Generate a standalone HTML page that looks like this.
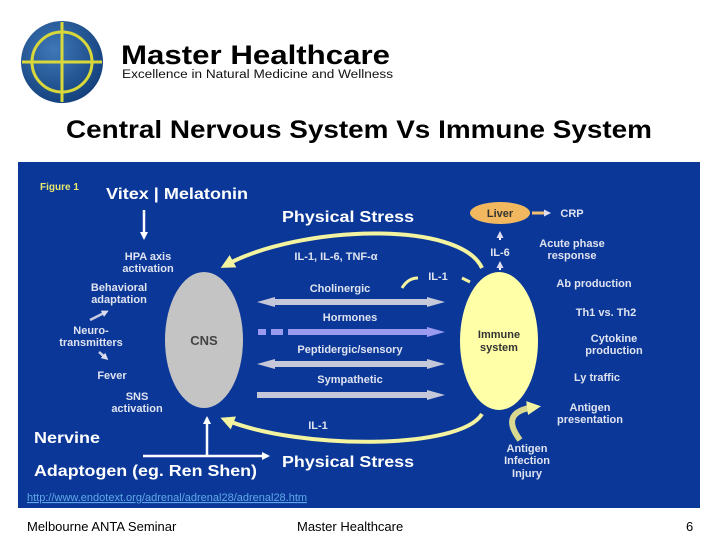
<!DOCTYPE html>
<html><head><meta charset="utf-8"><style>
html,body{margin:0;padding:0;background:#fff;}
body{width:720px;height:540px;overflow:hidden;position:relative;font-family:"Liberation Sans",sans-serif;}
</style></head><body>
<svg width="720" height="540" viewBox="0 0 720 540" xmlns="http://www.w3.org/2000/svg" font-family="Liberation Sans, sans-serif">
<defs>
<radialGradient id="lg" cx="0.4" cy="0.35" r="0.7"><stop offset="0" stop-color="#3f78b8"/><stop offset="1" stop-color="#123f7a"/></radialGradient>
<marker id="wa" markerWidth="8" markerHeight="8" refX="6" refY="4" orient="auto" markerUnits="userSpaceOnUse"><path d="M0,0 L8,4 L0,8 z" fill="#fff"/></marker>
<marker id="ya" markerWidth="14" markerHeight="14" refX="8" refY="7" orient="auto" markerUnits="userSpaceOnUse"><path d="M0,0 L14,7 L0,14 z" fill="#f4f4a0"/></marker>
<marker id="sa" markerWidth="7" markerHeight="7" refX="4" refY="3.5" orient="auto" markerUnits="userSpaceOnUse"><path d="M0,0 L7,3.5 L0,7 z" fill="#dde"/></marker>
</defs>
<!-- logo -->
<circle cx="62" cy="62" r="41" fill="url(#lg)"/>
<circle cx="62" cy="62" r="30" fill="none" stroke="#d8d83a" stroke-width="3"/>
<line x1="62" y1="22" x2="62" y2="102" stroke="#d8d83a" stroke-width="3"/>
<line x1="22" y1="62" x2="102" y2="62" stroke="#d8d83a" stroke-width="3"/>
<text x="121" y="64" font-size="27" font-weight="bold" fill="#000" textLength="269" lengthAdjust="spacingAndGlyphs">Master Healthcare</text>
<text x="122" y="78" font-size="11.5" fill="#111" textLength="271" lengthAdjust="spacingAndGlyphs">Excellence in Natural Medicine and Wellness</text>
<text x="66" y="138" font-size="25" font-weight="bold" fill="#000" textLength="586" lengthAdjust="spacingAndGlyphs">Central Nervous System Vs Immune System</text>
<!-- panel -->
<rect x="18" y="162" width="682" height="346" fill="#0b3898"/>
<text x="40" y="190" font-size="10" font-weight="bold" fill="#e8e870">Figure 1</text>
<text x="106" y="199" font-size="16" font-weight="bold" fill="#fff" textLength="142" lengthAdjust="spacingAndGlyphs">Vitex | Melatonin</text>
<line x1="144" y1="210" x2="144" y2="238" stroke="#fff" stroke-width="2.5" marker-end="url(#wa)"/>
<line x1="90" y1="320" x2="106" y2="312" stroke="#c8cce0" stroke-width="2.5" marker-end="url(#sa)"/>
<line x1="99" y1="352" x2="106" y2="358" stroke="#c8cce0" stroke-width="2.5" marker-end="url(#sa)"/>
<ellipse cx="204" cy="340" rx="39" ry="68" fill="#c4c4c4"/>
<ellipse cx="499" cy="341" rx="39" ry="69" fill="#ffffa8"/>
<ellipse cx="500" cy="213" rx="30" ry="11" fill="#f2b860"/>
<g fill="#dfe3f0" font-size="11" font-weight="bold" text-anchor="middle">
<text x="148" y="260">HPA axis</text><text x="148" y="272">activation</text>
<text x="119" y="291">Behavioral</text><text x="119" y="303">adaptation</text>
<text x="91" y="334">Neuro-</text><text x="91" y="346">transmitters</text>
<text x="112" y="379">Fever</text>
<text x="137" y="400">SNS</text><text x="137" y="412">activation</text>
<text x="204" y="345" font-size="13" fill="#444">CNS</text>
<text x="336" y="260">IL-1, IL-6, TNF-α</text>
<text x="340" y="292">Cholinergic</text>
<text x="350" y="321">Hormones</text>
<text x="350" y="353">Peptidergic/sensory</text>
<text x="350" y="383">Sympathetic</text>
<text x="438" y="280">IL-1</text>
<text x="318" y="429">IL-1</text>
<text x="500" y="256">IL-6</text>
<text x="500" y="217" fill="#333">Liver</text>
<text x="572" y="247">Acute phase</text><text x="572" y="259">response</text>
<text x="594" y="287">Ab production</text>
<text x="606" y="316">Th1 vs. Th2</text>
<text x="614" y="342">Cytokine</text><text x="614" y="354">production</text>
<text x="597" y="381">Ly traffic</text>
<text x="590" y="411">Antigen</text><text x="590" y="423">presentation</text>
<text x="527" y="452">Antigen</text><text x="527" y="464">Infection</text><text x="527" y="477">Injury</text>
<text x="572" y="217">CRP</text>
<text x="499" y="338" fill="#333">Immune</text>
<text x="499" y="351" fill="#333">system</text>
</g>
<line x1="532" y1="213" x2="548" y2="213" stroke="#f2c070" stroke-width="3" marker-end="url(#sa)"/>
<line x1="500" y1="240" x2="500" y2="234" stroke="#fff" stroke-width="2" marker-end="url(#sa)"/>
<line x1="500" y1="270" x2="500" y2="264" stroke="#fff" stroke-width="2" marker-end="url(#sa)"/>
<!-- curves -->
<path d="M482,268 C460,220 300,225 226,265" fill="none" stroke="#f4f4a0" stroke-width="4" marker-end="url(#ya)"/>
<path d="M482,414 C460,450 300,450 226,420" fill="none" stroke="#f4f4a0" stroke-width="4" marker-end="url(#ya)"/>
<path d="M418,278 C410,278 405,283 402,288" fill="none" stroke="#f4f4a0" stroke-width="3"/>
<line x1="470" y1="282" x2="462" y2="278" stroke="#f4f4a0" stroke-width="3"/>
<!-- bars -->
<g fill="#c4c8d8">
<polygon points="257,302 275,297 275,299 427,299 427,297 445,302 427,307 427,305 275,305 275,307"/>
<polygon points="257,364 275,359 275,361 427,361 427,359 445,364 427,369 427,367 275,367 275,369"/>
<polygon points="257,392 427,392 427,390 445,395 427,400 427,398 257,398"/>
</g>
<g fill="#9a9af0">
<rect x="258" y="329" width="8" height="6"/><rect x="271" y="329" width="12" height="6"/>
<polygon points="288,329 427,329 427,327 445,332 427,337 427,335 288,335"/>
</g>
<path d="M520,440 C505,420 512,410 535,407" fill="none" stroke="#d8d890" stroke-width="6" marker-end="url(#ya)"/>
<text x="34" y="443" font-size="16" font-weight="bold" fill="#fff" textLength="66" lengthAdjust="spacingAndGlyphs">Nervine</text>
<text x="34" y="476" font-size="16" font-weight="bold" fill="#fff" textLength="223" lengthAdjust="spacingAndGlyphs">Adaptogen (eg. Ren Shen)</text>
<text x="282" y="222" font-size="16" font-weight="bold" fill="#fff" textLength="132" lengthAdjust="spacingAndGlyphs">Physical Stress</text>
<text x="282" y="467" font-size="16" font-weight="bold" fill="#fff" textLength="132" lengthAdjust="spacingAndGlyphs">Physical Stress</text>
<line x1="207" y1="456" x2="207" y2="418" stroke="#fff" stroke-width="2.5" marker-end="url(#wa)"/>
<line x1="143" y1="456" x2="268" y2="456" stroke="#fff" stroke-width="2.5" marker-end="url(#wa)"/>
<text x="27" y="501" font-size="11" fill="#5fa8e8" text-decoration="underline">http://www.endotext.org/adrenal/adrenal28/adrenal28.htm</text>
<text x="27" y="531" font-size="13" fill="#000">Melbourne ANTA Seminar</text>
<text x="297" y="531" font-size="13" fill="#000">Master Healthcare</text>
<text x="686" y="531" font-size="13" fill="#000">6</text>
</svg>
</body></html>
